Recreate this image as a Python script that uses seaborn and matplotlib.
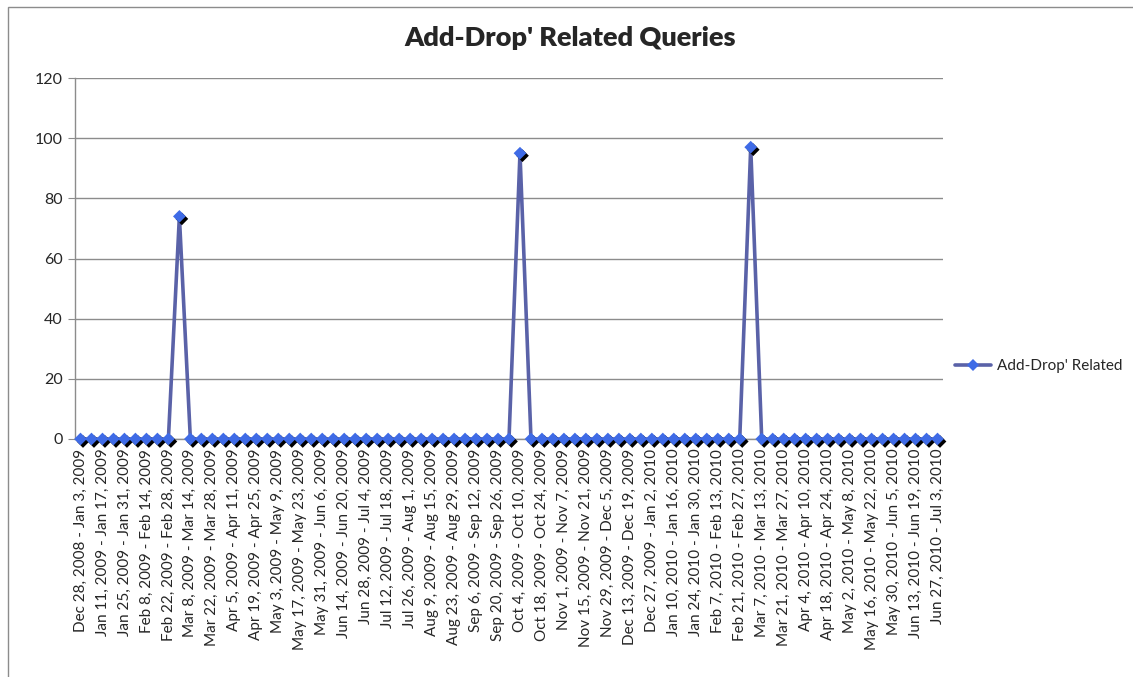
import numpy as np
import pandas as pd
import matplotlib
matplotlib.use("Agg")
import matplotlib.pyplot as plt
import matplotlib.patheffects as pe
from matplotlib.lines import Line2D
from matplotlib.patches import Rectangle
import seaborn as sns

# weekly counts, Dec 28 2008 - Jul 3 2010 (79 weeks)
week_starts = pd.date_range("2008-12-28", periods=79, freq="7D")
queries = [0, 0, 0, 0, 0, 0, 0, 0, 0, 74,
           0, 0, 0, 0, 0, 0, 0, 0, 0, 0,
           0, 0, 0, 0, 0, 0, 0, 0, 0, 0,
           0, 0, 0, 0, 0, 0, 0, 0, 0, 0,
           95, 0, 0, 0, 0, 0, 0, 0, 0, 0,
           0, 0, 0, 0, 0, 0, 0, 0, 0, 0,
           0, 97, 0, 0, 0, 0, 0, 0, 0, 0,
           0, 0, 0, 0, 0, 0, 0, 0, 0]
series_name = "Add-Drop' Related"
title = "Add-Drop' Related Queries"


def week_label(d):
    e = d + pd.Timedelta(days=6)
    return f"{d:%b} {d.day}, {d.year} - {e:%b} {e.day}, {e.year}"


labels = [week_label(d) for d in week_starts]
df = pd.DataFrame({"pos": np.arange(len(queries)), "value": queries})

sns.set_style("white")
plt.rcParams["font.family"] = ["Lato", "DejaVu Sans"]

line_col = "#5A62A8"
mark_col = "#3F6BE6"
grid_col = "#8C8C8C"

fig = plt.figure(figsize=(11.33, 6.77), dpi=100)
ax = fig.add_axes([75 / 1133, 1 - 439 / 677, 868 / 1133, 361 / 677])

sns.lineplot(data=df, x="pos", y="value", color=line_col, linewidth=2.6,
             ax=ax, zorder=3, clip_on=False)
sns.scatterplot(data=df, x="pos", y="value", marker="D", s=42, color=mark_col,
                edgecolor=mark_col, linewidth=0, ax=ax, zorder=4, clip_on=False,
                path_effects=[pe.SimplePatchShadow(offset=(1.8, -1.8),
                                                   shadow_rgbFace="black", alpha=1),
                              pe.Normal()])

ax.set_xlim(-0.5, len(queries) - 0.5)
ax.set_ylim(0, 120)
ax.set_yticks(range(0, 121, 20))
ax.set_xticks(df["pos"][::2])
ax.set_xticklabels(labels[::2], rotation=90, fontsize=11)
ax.tick_params(axis="y", labelsize=11.5, length=5, color=grid_col, left=True, pad=4)
ax.tick_params(axis="x", length=0, pad=7)
ax.set_xlabel("")
ax.set_ylabel("")
ax.yaxis.grid(True, color=grid_col, linewidth=1)
ax.set_axisbelow(True)
for side in ["top", "right"]:
    ax.spines[side].set_visible(False)
for side in ["left", "bottom"]:
    ax.spines[side].set_color(grid_col)
    ax.spines[side].set_linewidth(1)
if ax.get_legend():
    ax.get_legend().remove()

fig.text(0.503, 0.944, title, ha="center", va="center",
         fontsize=19.5, fontweight="heavy")

handle = Line2D([], [], color=line_col, linewidth=2.6, marker="D",
                markersize=5.8, markerfacecolor=mark_col, markeredgewidth=0)
fig.legend([handle], [series_name], loc="center left",
           bbox_to_anchor=(941 / 1133, 1 - 366 / 677), frameon=False,
           fontsize=11, handlelength=2.4, handletextpad=0.35)

fig.add_artist(Rectangle((8 / 1133, -0.1), 1.2, 1.1 - 7 / 677,
                         transform=fig.transFigure, fill=False,
                         edgecolor=grid_col, linewidth=1))

fig.savefig("out.png", dpi=100)
